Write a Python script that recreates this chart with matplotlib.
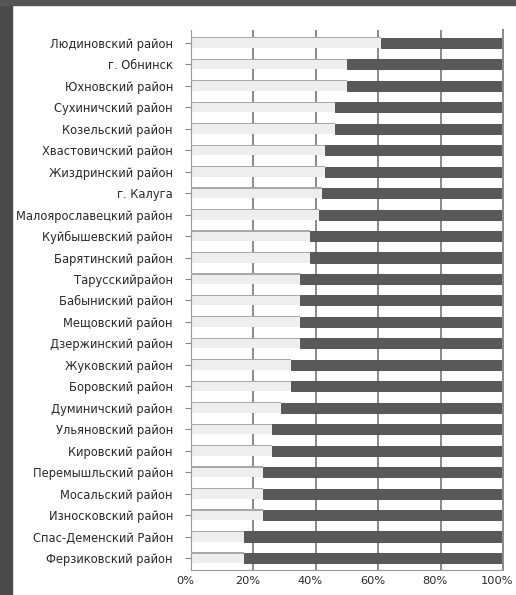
import numpy as np
import matplotlib.pyplot as plt
import matplotlib.transforms as mtransforms
from matplotlib.patches import Rectangle

# districts, top to bottom
districts = ['Людиновский район', 'г. Обнинск', 'Юхновский район',
             'Сухиничский район', 'Козельский район', 'Хвастовичский район',
             'Жиздринский район', 'г. Калуга', 'Малоярославецкий район',
             'Куйбышевский район', 'Барятинский район', 'Тарусскийрайон',
             'Бабыниский район', 'Мещовский район', 'Дзержинский район',
             'Жуковский район', 'Боровский район', 'Думиничский район',
             'Ульяновский район', 'Кировский район', 'Перемышльский район',
             'Мосальский район', 'Износковский район', 'Спас-Деменский Район',
             'Ферзиковский район']

# share of the first (light) part, percent
light_share = [61, 50, 50, 46, 46, 43, 43, 42, 41, 38, 38, 35, 35, 35, 35,
               32, 32, 29, 26, 26, 23, 23, 23, 17, 17]
dark_share = [100 - v for v in light_share]

xticks = [0, 20, 40, 60, 80, 100]
xtick_labels = ['0%', '20%', '40%', '60%', '80%', '100%']

fig = plt.figure(figsize=(5.16, 5.95), dpi=100)
fig.patch.set_facecolor('white')
# dark frame left and top (screenshot edges)
fig.add_artist(Rectangle((0, 0), 12 / 516, 1, transform=fig.transFigure,
                         color='#4a4a4a', zorder=0))
fig.add_artist(Rectangle((0, 1 - 5 / 595), 1, 5 / 595, transform=fig.transFigure,
                         color='#555555', zorder=0))

ax = fig.add_axes([191 / 516, 1 - 570 / 595, 312 / 516, 540 / 595])

y = np.arange(len(districts))
h = 0.47
ax.barh(y, light_share, height=h, color='#eeeeee', edgecolor='none', zorder=2)
ax.barh(y - h / 2, light_share, height=0.06, color='#a8a8a8', edgecolor='none', zorder=3)
ax.barh(y, dark_share, left=light_share, height=h, color='#595959',
        edgecolor='#4a4a4a', linewidth=0.6, zorder=2)

ax.set_xlim(0, 100)
ax.set_ylim(len(districts) - 0.44, -0.6)

ax.set_xticks(xticks)
ax.set_xticklabels(xtick_labels, fontsize=8.2, color='#2a2a2a')
ax.set_yticks(y)
ax.set_yticklabels(districts, fontsize=8.3, color='#2a2a2a')
ax.tick_params(axis='y', length=4, color='#888888', pad=9)
ax.tick_params(axis='x', length=0, pad=4)

# labels sit a bit left of the gridlines, like the 3d floor of the original
shift = mtransforms.ScaledTranslation(-4 / 72, 0, fig.dpi_scale_trans)
for lab in ax.get_xticklabels():
    lab.set_transform(lab.get_transform() + shift)

ax.grid(axis='x', color='#8a8a8a', linewidth=1.4, zorder=1)
ax.set_axisbelow(True)
ax.spines['top'].set_visible(False)
ax.spines['left'].set_color('#999999')
ax.spines['bottom'].set_color('#999999')
ax.spines['right'].set_color('#8a8a8a')
ax.spines['right'].set_linewidth(1.4)

fig.savefig('out.png', dpi=100)
